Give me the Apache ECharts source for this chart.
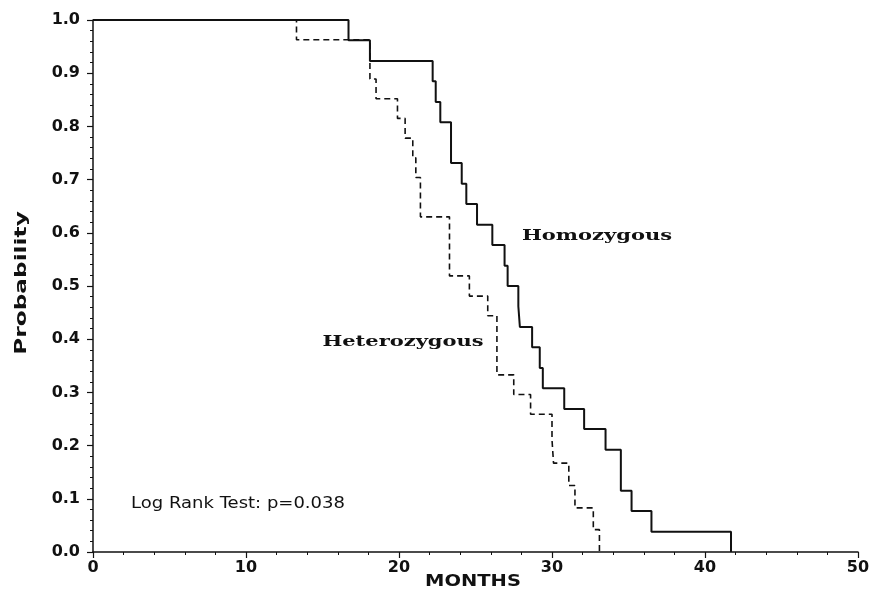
<!DOCTYPE html>
<html>
<head>
<meta charset="utf-8">
<script src="https://cdn.jsdelivr.net/npm/echarts@6/dist/echarts.min.js"></script>
<style>
  html, body { margin: 0; padding: 0; background: #fff; }
  #chart { width: 877px; height: 591px; }
</style>
</head>
<body>
<div id="chart"></div>
<script>
// Kaplan-Meier curves (months, survival probability)
var homoMonths = [0, 16.7, 18.1, 22.2, 22.4, 22.7, 23.4, 24.1, 24.4, 25.1, 26.1, 26.9, 27.1, 27.8, 27.9, 28.7, 29.2, 29.4, 30.8, 32.1, 33.5, 34.5, 35.2, 36.5, 41.7];
var homoSurv   = [1.0, 0.962, 0.923, 0.885, 0.846, 0.808, 0.731, 0.692, 0.654, 0.615, 0.577, 0.538, 0.5, 0.462, 0.423, 0.385, 0.346, 0.308, 0.269, 0.231, 0.192, 0.115, 0.077, 0.038, 0];

var hetMonths = [0, 13.3, 18.1, 18.5, 19.9, 20.4, 20.9, 21.1, 21.4, 23.3, 24.6, 25.8, 26.4, 27.5, 28.6, 30.0, 30.1, 31.1, 31.5, 32.7, 33.1];
var hetSurv   = [1.0, 0.963, 0.889, 0.852, 0.815, 0.778, 0.741, 0.704, 0.630, 0.519, 0.481, 0.444, 0.333, 0.296, 0.259, 0.211, 0.167, 0.125, 0.083, 0.042, 0];

var xTicks = [0, 10, 20, 30, 40, 50];
var yTicks = [0, 0.1, 0.2, 0.3, 0.4, 0.5, 0.6, 0.7, 0.8, 0.9, 1.0];

function pairs(xs, ys) {
  return xs.map(function (x, i) { return [x, ys[i]]; });
}

var ink = '#111';
var tickFont = { color: ink, fontFamily: 'DejaVu Sans', fontWeight: 'bold', fontSize: 16 };

var chart = echarts.init(document.getElementById('chart'));

chart.setOption({
  animation: false,
  backgroundColor: '#fff',
  grid: { left: 93, top: 20, right: 19, bottom: 39, containLabel: false },
  xAxis: {
    type: 'value',
    min: xTicks[0],
    max: xTicks[xTicks.length - 1],
    interval: 10,
    axisLine: { show: true, lineStyle: { color: ink, width: 1.5 } },
    axisTick: { show: true, length: 6, lineStyle: { color: ink, width: 1.2 } },
    minorTick: { show: true, splitNumber: 5, length: 3, lineStyle: { color: ink, width: 1 } },
    splitLine: { show: false },
    axisLabel: Object.assign({ margin: 8 }, tickFont)
  },
  yAxis: {
    type: 'value',
    min: yTicks[0],
    max: yTicks[yTicks.length - 1],
    interval: 0.1,
    axisLine: { show: true, lineStyle: { color: ink, width: 1.5 } },
    axisTick: { show: true, length: 6, lineStyle: { color: ink, width: 1.2 } },
    minorTick: { show: true, splitNumber: 5, length: 3, lineStyle: { color: ink, width: 1 } },
    splitLine: { show: false },
    axisLabel: Object.assign({ margin: 13, formatter: function (v) { return v.toFixed(1); } }, tickFont)
  },
  series: [
    {
      name: 'Homozygous',
      type: 'line',
      step: 'end',
      symbol: 'none',
      data: pairs(homoMonths, homoSurv),
      lineStyle: { color: ink, width: 2, type: 'solid' },
      z: 3
    },
    {
      name: 'Heterozygous',
      type: 'line',
      step: 'end',
      symbol: 'none',
      data: pairs(hetMonths, hetSurv),
      lineStyle: { color: ink, width: 1.6, type: [6, 4] },
      z: 2
    }
  ],
  graphic: [
    {
      type: 'text', x: 597, y: 236, scaleX: 1.5,
      style: { text: 'Homozygous', fill: ink, font: 'bold 14px "DejaVu Serif"',
               align: 'center', verticalAlign: 'middle', textAlign: 'center', textVerticalAlign: 'middle' }
    },
    {
      type: 'text', x: 403, y: 342, scaleX: 1.5,
      style: { text: 'Heterozygous', fill: ink, font: 'bold 14px "DejaVu Serif"',
               align: 'center', verticalAlign: 'middle', textAlign: 'center', textVerticalAlign: 'middle' }
    },
    {
      type: 'text', x: 238, y: 504, scaleX: 1.2,
      style: { text: 'Log Rank Test: p=0.038', fill: ink, font: '15px "DejaVu Sans"',
               align: 'center', verticalAlign: 'middle', textAlign: 'center', textVerticalAlign: 'middle' }
    },
    {
      type: 'text', x: 22, y: 283, rotation: Math.PI / 2, scaleX: 1.55,
      style: { text: 'Probability', fill: ink, font: 'bold 15px "DejaVu Sans"',
               align: 'center', verticalAlign: 'middle', textAlign: 'center', textVerticalAlign: 'middle' }
    },
    {
      type: 'text', x: 473, y: 582, scaleX: 1.3,
      style: { text: 'MONTHS', fill: ink, font: 'bold 15px "DejaVu Sans"',
               align: 'center', verticalAlign: 'middle', textAlign: 'center', textVerticalAlign: 'middle' }
    }
  ]
});
</script>
</body>
</html>
